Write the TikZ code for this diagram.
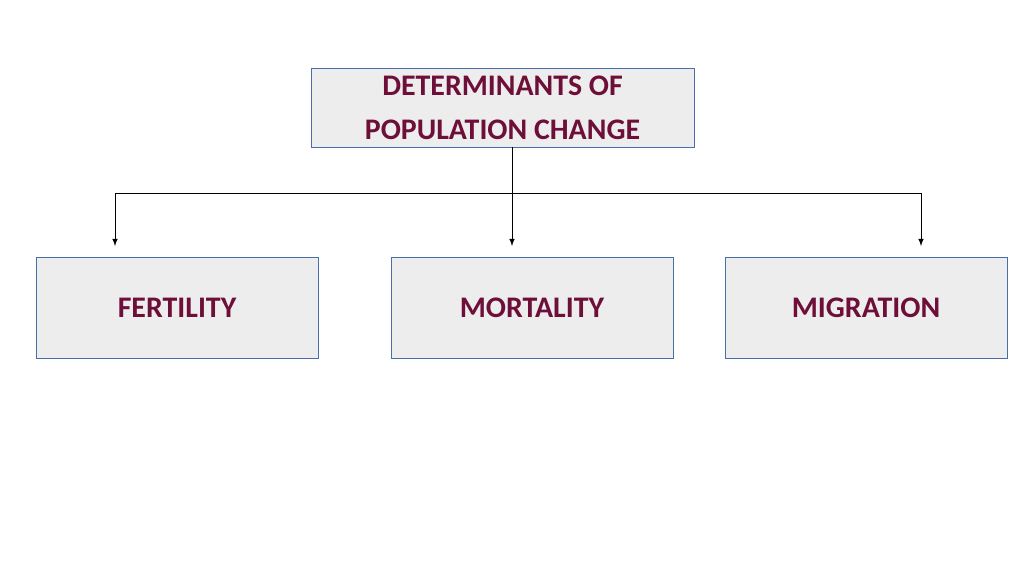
\documentclass[tikz,border=0pt]{standalone}
\usepackage{fontspec}
\setmainfont{Carlito}
\usetikzlibrary{arrows.meta,positioning}
\definecolor{boxfill}{HTML}{EDEDED}
\definecolor{boxline}{HTML}{4A6EA8}
\definecolor{labelred}{HTML}{6E0F3A}
\tikzset{>=latex}

\begin{document}
\begin{tikzpicture}[x=0.02cm,y=-0.02cm,
    topbox/.style={draw=boxline,fill=boxfill,align=center,minimum width=7.66cm,minimum height=1.58cm,text=labelred,font=\bfseries\fontsize{17}{25}\selectfont},
    factorbox/.style={draw=boxline,fill=boxfill,minimum width=5.64cm,minimum height=2.02cm,text=labelred,font=\bfseries\fontsize{17}{20}\selectfont}]
		\useasboundingbox (0,0) rectangle (1024,576);
		\node[topbox] (det) at (502.5,107.5) {DETERMINANTS OF\\POPULATION CHANGE};
		\node[factorbox] (fert) at (177,307.5) {FERTILITY};
		\node[factorbox] (mort) at (532,307.5) {MORTALITY};
		\node[factorbox] (migr) at (866,307.5) {MIGRATION};
		\coordinate (split) at (512,193);
		\coordinate (left) at (115,193);
		\coordinate (right) at (921,193);

		\draw (512,147) -- (split);
		\draw (left) -- (right);
		\draw[->] (left) -- (115,246);
		\draw[->] (split) -- (512,246);
		\draw[->] (right) -- (921,246);
	\end{tikzpicture}
\end{document}
